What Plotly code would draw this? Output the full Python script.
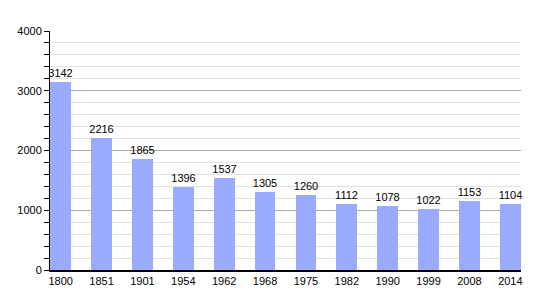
import plotly.graph_objects as go

years = ["1800", "1851", "1901", "1954", "1962", "1968", "1975", "1982", "1990", "1999", "2008", "2014"]
population = [3142, 2216, 1865, 1396, 1537, 1305, 1260, 1112, 1078, 1022, 1153, 1104]

fig = go.Figure(go.Bar(
    x=list(range(len(years))),
    y=population,
    width=0.51,
    marker=dict(color="#99AAFF", line=dict(width=0)),
    text=[str(v) for v in population],
    textposition="outside",
    textangle=0,
    constraintext="none",
    textfont=dict(family="Liberation Sans, Arial", size=11, color="black"),
    cliponaxis=False,
))

fig.update_layout(
    width=550, height=300,
    margin=dict(l=50, r=29, t=31, b=30),
    plot_bgcolor="white", paper_bgcolor="white",
    showlegend=False,
    font=dict(family="Liberation Sans, Arial", size=11, color="black"),
    bargap=0,
)
fig.update_xaxes(
    range=[-0.26, 11.26],
    tickmode="array", tickvals=list(range(len(years))), ticktext=years,
    showline=True, linecolor="black", linewidth=1.5,
    showgrid=False, ticks="", zeroline=False,
)
fig.update_yaxes(
    range=[0, 4000], dtick=1000,
    showline=True, linecolor="black", linewidth=1,
    showgrid=True, gridcolor="#AAAAAA", gridwidth=1,
    ticks="outside", ticklen=5, tickcolor="black",
    minor=dict(dtick=200, showgrid=True, gridcolor="#E2E2E2", ticks="outside", ticklen=5, tickcolor="black"),
    zeroline=False,
)

fig.write_html("out.html")
